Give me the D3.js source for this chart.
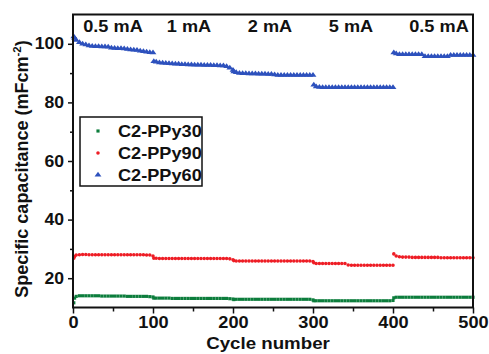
<!DOCTYPE html>
<html><head><meta charset="utf-8">
<script src="https://cdn.jsdelivr.net/npm/d3@7"></script>
<style>body{margin:0;background:#fff}svg{display:block}text{font-family:"Liberation Sans",Arial,sans-serif;font-weight:bold;fill:#111}</style>
</head><body><div id="chart"></div>
<script>
const cycles = [
1,2,4,8,12,16,20,24,28,32,36,40,44,48,52,56,60,64,68,72,76,80,84,88,92,96,100,
101,104,108,112,116,120,124,128,132,136,140,144,148,152,156,160,164,168,172,176,180,184,188,192,196,200,
201,204,208,212,216,220,224,228,232,236,240,244,248,252,256,260,264,268,272,276,280,284,288,292,296,300,
301,304,308,312,316,320,324,328,332,336,340,344,348,352,356,360,364,368,372,376,380,384,388,392,396,400,
401,404,408,412,416,420,424,428,432,436,440,444,448,452,456,460,464,468,472,476,480,484,488,492,496,500];

const ppy30 = [
11.6,13.2,13.8,14.0,14.0,14.0,14.0,14.0,14.0,14.0,13.9,13.9,13.9,13.9,13.9,13.9,13.9,13.9,13.8,13.8,13.8,13.8,13.8,13.8,13.8,13.7,13.6,
13.2,13.2,13.2,13.2,13.2,13.2,13.1,13.1,13.1,13.1,13.1,13.1,13.1,13.1,13.1,13.1,13.1,13.1,13.1,13.1,13.1,13.1,13.1,13.1,13.0,12.9,
12.7,12.8,12.8,12.8,12.8,12.8,12.8,12.8,12.8,12.8,12.8,12.8,12.8,12.8,12.8,12.8,12.8,12.8,12.8,12.8,12.8,12.8,12.8,12.8,12.8,12.6,
12.3,12.3,12.3,12.3,12.3,12.3,12.3,12.3,12.3,12.3,12.3,12.3,12.3,12.3,12.3,12.3,12.3,12.3,12.3,12.3,12.3,12.3,12.3,12.3,12.3,12.4,
13.3,13.5,13.5,13.5,13.5,13.5,13.5,13.5,13.5,13.5,13.5,13.5,13.5,13.5,13.5,13.5,13.5,13.5,13.5,13.5,13.5,13.5,13.5,13.5,13.5,13.5];

const ppy90 = [
26.8,27.4,27.9,28.0,28.1,28.1,28.0,28.0,28.0,28.0,28.0,28.0,28.0,28.0,28.0,28.0,28.0,28.0,28.0,28.0,28.0,28.0,28.0,28.0,27.9,27.9,27.6,
26.8,26.8,26.7,26.7,26.7,26.7,26.7,26.7,26.7,26.7,26.7,26.7,26.7,26.7,26.7,26.7,26.7,26.7,26.7,26.7,26.7,26.7,26.7,26.7,26.6,26.3,
26.0,25.9,25.9,25.9,25.9,25.9,25.9,25.9,25.9,25.9,25.9,25.9,25.9,25.9,25.9,25.9,25.9,25.9,25.9,25.9,25.9,25.9,25.9,25.9,25.9,25.7,
25.3,25.0,25.0,25.0,25.0,25.0,25.0,25.0,25.0,25.0,25.0,24.5,24.4,24.4,24.4,24.4,24.4,24.4,24.4,24.4,24.4,24.4,24.4,24.4,24.4,24.4,
28.3,27.6,27.3,27.2,27.2,27.2,27.1,27.1,27.1,27.1,27.1,27.1,27.1,27.1,27.1,27.0,27.0,27.0,27.0,27.0,27.0,27.0,27.0,27.0,27.0,27.0];

const ppy60 = [
102.4,101.9,101.2,100.5,100.0,99.7,99.4,99.2,99.1,99.1,99.0,99.0,98.9,98.6,98.5,98.4,98.4,98.3,98.2,98.0,97.9,97.8,97.6,97.4,97.2,97.1,97.0,
94.0,93.8,93.6,93.5,93.4,93.3,93.2,93.1,93.1,93.0,93.0,92.9,92.9,92.8,92.8,92.8,92.7,92.7,92.7,92.6,92.6,92.5,92.5,92.3,91.8,91.0,
90.5,90.2,90.0,89.9,89.9,89.8,89.8,89.8,89.7,89.7,89.7,89.6,89.6,89.5,89.3,89.3,89.3,89.3,89.3,89.3,89.3,89.3,89.3,89.3,89.3,89.3,
86.0,85.4,85.2,85.1,85.1,85.1,85.1,85.1,85.1,85.1,85.1,85.1,85.1,85.1,85.1,85.1,85.1,85.1,85.1,85.1,85.1,85.1,85.1,85.1,85.1,85.1,
97.0,96.6,96.4,96.4,96.4,96.4,96.4,96.4,96.4,96.4,95.7,95.7,95.7,95.7,95.7,95.7,95.7,95.7,96.1,96.1,96.1,96.1,96.1,96.1,96.1,96.1];

const seriesNames = ["C2-PPy30","C2-PPy90","C2-PPy60"];
const seriesColors = ["#0c7d3c","#ee1d25","#2d51bd"];
const seriesShapes = ["square","circle","triangle"];
const currentLabels = ["0.5 mA","1 mA","2 mA","5 mA","0.5 mA"];
const currentPos = [50,150,250,350,450];
const xTicks = [0,100,200,300,400,500];
const xMinor = [50,150,250,350,450];
const yTicks = [20,40,60,80,100];
const yMinor = [30,50,70,90];

const W=489,H=354;
const L=73,R=473,T=14.5,B=307.5;
const STRETCH=1.1;
const svg=d3.select("#chart").append("svg").attr("width",W).attr("height",H);
const x=d3.scaleLinear().domain([0,500]).range([L,R]);
const y=d3.scaleLinear().domain([10,110]).range([B,T]);

function stretch(sel,f){sel.each(function(){const n=this.getComputedTextLength();this.setAttribute("textLength",n*f);this.setAttribute("lengthAdjust","spacingAndGlyphs");});}

const symType={square:d3.symbolSquare,circle:d3.symbolCircle,triangle:d3.symbolTriangle};
const symSize={square:10,circle:10,triangle:13};
const allVals=[ppy30,ppy90,ppy60];
allVals.forEach((vals,i)=>{
  const sym=d3.symbol().type(symType[seriesShapes[i]]).size(symSize[seriesShapes[i]]);
  svg.append("g").selectAll("path").data(cycles.map((c,k)=>[c,vals[k]])).join("path")
    .attr("d",sym).attr("fill",seriesColors[i])
    .attr("transform",d=>`translate(${x(d[0])},${y(d[1])}) scale(${seriesShapes[i]==="triangle"?1.25:1},1)`);
});

// axes
const xa=svg.append("g").attr("transform",`translate(0,${B})`).call(d3.axisBottom(x).tickValues(xTicks).tickSize(6).tickPadding(3));
xa.select(".domain").remove();
xa.selectAll("line").attr("stroke","#111").attr("stroke-width",1.5);
xa.selectAll("text").attr("font-size",16.5).attr("fill","#111").attr("dy","0.71em");
stretch(xa.selectAll("text"),STRETCH);
const xm=svg.append("g").attr("transform",`translate(0,${B})`).call(d3.axisBottom(x).tickValues(xMinor).tickSize(4).tickFormat(""));
xm.select(".domain").remove(); xm.selectAll("line").attr("stroke","#111").attr("stroke-width",1.5);

const ya=svg.append("g").attr("transform",`translate(${L},0)`).call(d3.axisLeft(y).tickValues(yTicks).tickSize(5).tickPadding(4));
ya.select(".domain").remove();
ya.selectAll("line").attr("stroke","#111").attr("stroke-width",1.5);
ya.selectAll("text").attr("font-size",16).attr("fill","#111");
stretch(ya.selectAll("text"),STRETCH);
const ym=svg.append("g").attr("transform",`translate(${L},0)`).call(d3.axisLeft(y).tickValues(yMinor).tickSize(3).tickFormat(""));
ym.select(".domain").remove(); ym.selectAll("line").attr("stroke","#111").attr("stroke-width",1.5);

svg.append("rect").attr("x",L).attr("y",T).attr("width",R-L).attr("height",B-T)
  .attr("fill","none").attr("stroke","#111").attr("stroke-width",2);

// current labels
const cl=svg.append("g").selectAll("text").data(currentLabels).join("text")
  .attr("x",(d,i)=>x(currentPos[i])+[0,-4,-3,-2,6][i]).attr("y",31.5).attr("text-anchor","middle")
  .attr("font-size",16.5).text(d=>d);
stretch(cl,STRETCH);

// axis titles
const xt=svg.append("text").attr("x",(L+R)/2-5).attr("y",348.5).attr("text-anchor","middle").attr("font-size",17).text("Cycle number");
stretch(xt,STRETCH);
const yt=svg.append("text").attr("transform",`translate(27.5,${(T+B)/2+8}) rotate(-90)`).attr("text-anchor","middle").attr("font-size",18);
yt.append("tspan").text("Specific capacitance (mFcm");
yt.append("tspan").attr("font-size",11.5).attr("dy",-7).text("-2");
yt.append("tspan").attr("dy",7).text(")");

// legend
const lg=svg.append("g");
lg.append("rect").attr("x",80).attr("y",117).attr("width",122).attr("height",69).attr("fill","#fff").attr("stroke","#111").attr("stroke-width",1.5);
seriesNames.forEach((n,i)=>{
  const yy=131+i*22;
  lg.append("path").attr("d",d3.symbol().type(symType[seriesShapes[i]]).size(symSize[seriesShapes[i]])())
    .attr("fill",seriesColors[i]).attr("transform",`translate(98,${yy}) scale(${seriesShapes[i]==="triangle"?1.25:1},1)`);
  const t=lg.append("text").attr("x",118).attr("y",yy+6).attr("font-size",16.5).text(n);
  stretch(t,STRETCH);
});
</script></body></html>
